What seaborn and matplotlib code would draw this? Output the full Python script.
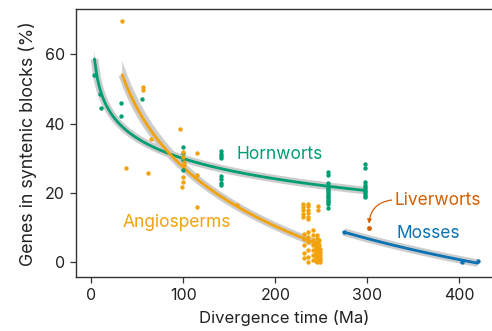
"""
Genes in syntenic blocks against divergence time, with log fits per lineage.
"""
import numpy as np
import matplotlib
matplotlib.use('Agg')
import matplotlib.pyplot as plt
import seaborn as sns

# Hornworts
horn_x = [3.3, 9.5, 10.9, 32, 32, 55,
          99.3, 99.3, 99.3, 99.3,
          141, 141, 141, 141, 141, 141, 141, 141,
          257, 257, 257, 257, 257, 257, 257, 257, 257, 257,
          257, 257, 257, 257, 257,
          297, 297, 297, 297, 297, 297, 297,
          297, 297, 297, 297]
horn_y = [54.0, 48.5, 44.6, 46.1, 42.1, 47.0,
          33.2, 31.5, 29.5, 26.6,
          32.0, 31.3, 30.6, 30.0, 25.0, 24.0, 23.0, 22.3,
          26.2, 25.2, 22.8, 21.8, 20.8, 19.8, 18.8, 17.8, 16.8, 15.7,
          21.3, 20.3, 19.3, 18.3, 17.3,
          28.3, 27.2, 23.3, 22.2, 21.2, 20.2, 19.2,
          18.9, 19.7, 20.7, 21.7]

# Angiosperms
angio_x = [33.5, 37.7, 56.5, 56.5, 61.3, 64.6,
           96.4, 99.5, 99.5, 100.5, 100.5, 99.5, 99.5, 98.5,
           114.6, 114.6, 114.6, 158,
           230.4, 230.4, 230.4, 230.4, 230.4,
           235.2, 235.2, 235.2, 235.2, 235.2, 235.2,
           246, 246,
           231, 231, 231, 231, 231,
           236, 236, 236, 236, 236, 236,
           241.3, 241.3, 241.3, 241.3, 241.3, 241.3, 241.3,
           245, 245, 245, 245, 245, 245, 245, 245, 245,
           247, 247, 247, 247, 247,
           244, 244, 244, 244, 244, 244, 244,
           246, 246, 246, 246, 246, 246, 246,
           248, 248, 248, 248, 248, 248]
angio_y = [69.5, 27.2, 50.5, 49.7, 25.9, 35.6,
           38.5, 31.9, 30.5, 29.0, 28.0, 24.7, 23.3, 21.8,
           31.7, 25.2, 16.0, 16.5,
           17.0, 16.0, 15.1, 14.1, 13.2,
           17.0, 16.2, 15.2, 14.3, 13.2, 12.4,
           16.3, 15.1,
           8.1, 6.9, 5.0, 2.6, 1.2,
           8.8, 7.4, 5.9, 3.5, 1.6, 0.2,
           9.3, 7.9, 6.4, 5.0, 3.5, 2.1, 0.7,
           7.9, 7.0, 6.0, 5.0, 4.0, 3.0, 2.0, 1.0, 0.2,
           6.5, 5.0, 3.5, 2.0, 0.8,
           4.5, 3.8, 3.0, 2.4, 1.8, 1.2, 0.5,
           5.5, 4.2, 3.2, 2.5, 1.6, 0.9, 0.3,
           3.9, 2.9, 2.2, 1.4, 0.6, 0.1]

# Mosses
moss_x = [274.7, 403, 420]
moss_y = [8.8, 0.1, 0.3]

# Liverworts
liver_x = [301.8]
liver_y = [9.9]

GREEN = '#009E73'
ORANGE = '#F2A20C'
BLUE = '#0A72B5'
RED = '#D55E00'
BAND = '#cccccc'

sns.set_theme(style='ticks')
plt.rcParams['font.family'] = ['Inter', 'DejaVu Sans']
plt.rcParams['axes.edgecolor'] = '#333333'
plt.rcParams['xtick.color'] = '#333333'
plt.rcParams['ytick.color'] = '#333333'


def draw_group(ax, x, y, color, ci=50):
    """Log fit with grey confidence band, fitted line and points."""
    x = np.asarray(x, dtype=float)
    y = np.asarray(y, dtype=float)
    if ci is not None:
        n_before = len(ax.collections)
        sns.regplot(x=x, y=y, logx=True, scatter=False, ci=ci, color=BAND,
                    line_kws={'alpha': 0}, seed=3, ax=ax)
        for band in ax.collections[n_before:]:
            band.set_facecolor(BAND)
            band.set_alpha(0.9)
            band.set_edgecolor('none')
            band.set_zorder(1)
    # Grey halo around the fitted line
    sns.regplot(x=x, y=y, logx=True, scatter=False, ci=None, color=BAND,
                line_kws={'lw': 5.5, 'zorder': 1.5, 'solid_capstyle': 'butt'},
                ax=ax)
    sns.regplot(x=x, y=y, logx=True, scatter=False, ci=None, color=color,
                line_kws={'lw': 2, 'zorder': 2}, ax=ax)
    sns.scatterplot(x=x, y=y, color=color, s=10, linewidth=0,
                    zorder=4, ax=ax)


fig = plt.figure(figsize=(4.92, 3.31), dpi=100)
ax = fig.add_axes([0.154, 0.162, 0.846, 0.811])

draw_group(ax, horn_x, horn_y, GREEN)
draw_group(ax, angio_x, angio_y, ORANGE)
draw_group(ax, moss_x, moss_y, BLUE, ci=None)
sns.scatterplot(x=liver_x, y=liver_y, color=RED, s=12, linewidth=0,
                zorder=4, ax=ax)

# Group labels
ax.text(158, 31, 'Hornworts', color=GREEN, fontsize=12.5, va='center')
ax.text(33.5, 11.6, 'Angiosperms', color=ORANGE, fontsize=12.5, va='center')
ax.text(332, 8.3, 'Mosses', color=BLUE, fontsize=12.5, va='center')
ax.text(329, 18, 'Liverworts', color=RED, fontsize=12.5, va='center')
ax.annotate('', xy=(liver_x[0], liver_y[0] + 1.3), xytext=(326.5, 18),
            arrowprops=dict(arrowstyle='-|>', color=RED, lw=0.9,
                            mutation_scale=6, shrinkA=0, shrinkB=0,
                            connectionstyle='arc3,rad=0.4'))

ax.set_xlim(-17, 435.5)
ax.set_ylim(-4.3, 73.1)
ax.set_xticks([0, 100, 200, 300, 400])
ax.set_yticks([0, 20, 40, 60])
ax.set_xlabel('Divergence time (Ma)', fontsize=12, color='#222222',
              labelpad=5)
ax.set_ylabel('Genes in syntenic blocks (%)', fontsize=12.8, color='#222222',
              labelpad=5)
ax.tick_params(labelsize=11.5, length=4.5, width=0.9, labelcolor='#222222')
ax.spines['right'].set_visible(False)
for side in ['left', 'bottom', 'top']:
    ax.spines[side].set_linewidth(1.0)

fig.savefig('out.png', dpi=100)
